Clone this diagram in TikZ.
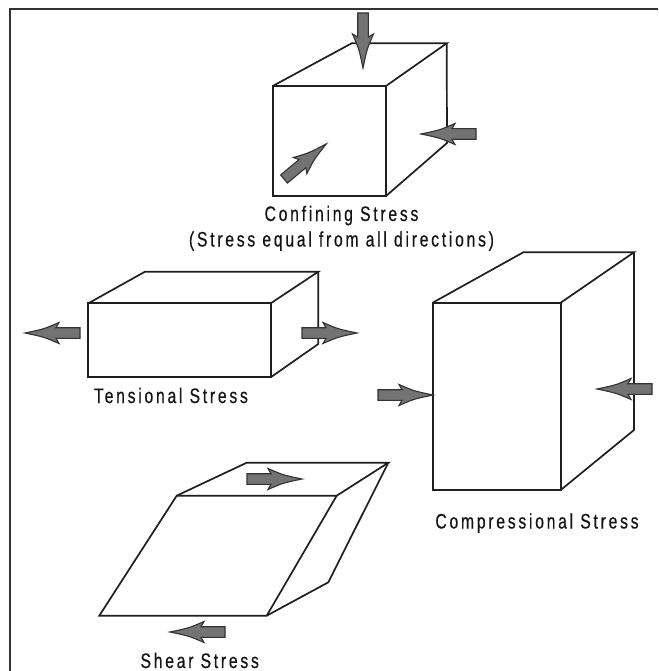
\documentclass[tikz,border=0pt]{standalone}
\usepackage{fontspec}
\newfontfamily\labfont[FakeStretch=0.75,LetterSpace=13,FakeBold=0.4]{Liberation Sans}
\begin{document}
\begin{tikzpicture}[x=1pt,y=-1pt,
  boxline/.style={draw=black!88,line width=1.7pt,line join=miter},
  frameline/.style={draw=black!80,line width=2pt},
  arrowbody/.style={fill=black!55,draw=black!80,line width=1.1pt,line join=miter},
  lab/.style={inner sep=0pt,anchor=base,font=\labfont\fontsize{21}{25}\selectfont,text=black!92},
  sarrow/.pic={\path[arrowbody] (0,-5.3) -- (24,-5.3) -- (21,-10.5)
      .. controls (36,-4) .. (55,0) .. controls (36,4) .. (21,10.5)
      -- (24,5.3) -- (0,5.3) -- cycle;}
]
\useasboundingbox (0,0) rectangle (658,671);
\fill[white] (0,0) rectangle (658,671);
% frame
\coordinate (fr1) at (10,9);
\coordinate (fr2) at (658,9);
\coordinate (fr3) at (10,671);
\draw[frameline] (fr2) -- (fr1) -- (fr3);

% confining cube
\coordinate (cA) at (272.7,86); \coordinate (cB) at (386,86);
\coordinate (cC) at (386,196); \coordinate (cD) at (272.7,196);
\coordinate (cE) at (351.7,43.3); \coordinate (cF) at (446.7,43.3);
\coordinate (cG) at (447,143);
\draw[boxline] (cA) -- (cB) -- (cC) -- (cD) -- cycle;
\draw[boxline] (cA) -- (cE) -- (cF) -- (cB);
\draw[boxline] (cF) -- (cG) -- (cC);

% tensional box
\coordinate (tA) at (88.3,303.3); \coordinate (tB) at (270.7,303.3);
\coordinate (tC) at (270.7,377.3); \coordinate (tD) at (88.3,377.3);
\coordinate (tE) at (145,271.7); \coordinate (tF) at (318.3,271.7);
\coordinate (tG) at (318.3,344);
\draw[boxline] (tA) -- (tB) -- (tC) -- (tD) -- cycle;
\draw[boxline] (tA) -- (tE) -- (tF) -- (tB);
\draw[boxline] (tF) -- (tG) -- (tC);

% compressional box
\coordinate (pA) at (432.7,302.7); \coordinate (pB) at (560.7,302.7);
\coordinate (pC) at (560.7,490); \coordinate (pD) at (432.7,490);
\coordinate (pE) at (523.3,252.3); \coordinate (pF) at (634,252.3);
\coordinate (pG) at (634,430);
\draw[boxline] (pA) -- (pB) -- (pC) -- (pD) -- cycle;
\draw[boxline] (pA) -- (pE) -- (pF) -- (pB);
\draw[boxline] (pF) -- (pG) -- (pC);

% shear box
\coordinate (sA) at (176.7,495.7); \coordinate (sB) at (336.7,495.7);
\coordinate (sC) at (266.7,615.7); \coordinate (sD) at (99.3,615.7);
\coordinate (sE) at (246.7,462.7); \coordinate (sF) at (388.3,462.7);
\coordinate (sG) at (328.3,582.3);
\draw[boxline] (sA) -- (sB) -- (sC) -- (sD) -- cycle;
\draw[boxline] (sA) -- (sE) -- (sF) -- (sB);
\draw[boxline] (sF) -- (sG) -- (sC);

% arrows
\pic[rotate=-90] at (363,13) {sarrow};
\pic[rotate=180] at (476,134) {sarrow};
\pic[rotate=39.7] at (284,179) {sarrow};
\pic[rotate=180] at (80,333) {sarrow};
\pic at (302,333) {sarrow};
\pic at (378,395) {sarrow};
\pic[rotate=180] at (652,389) {sarrow};
\pic at (247,479) {sarrow};
\pic[rotate=180] at (225,632) {sarrow};

% labels
\node[lab] (conf1) at (341.5,221) {Confining Stress};
\node[lab] (conf2) at (341.5,246.5) {(Stress equal from all directions)};
\node[lab] (tens) at (171,403) {Tensional Stress};
\node[lab] (comp) at (537,528.5) {Compressional Stress};
\node[lab] (shear) at (199.7,668) {Shear Stress};
\end{tikzpicture}
\end{document}
